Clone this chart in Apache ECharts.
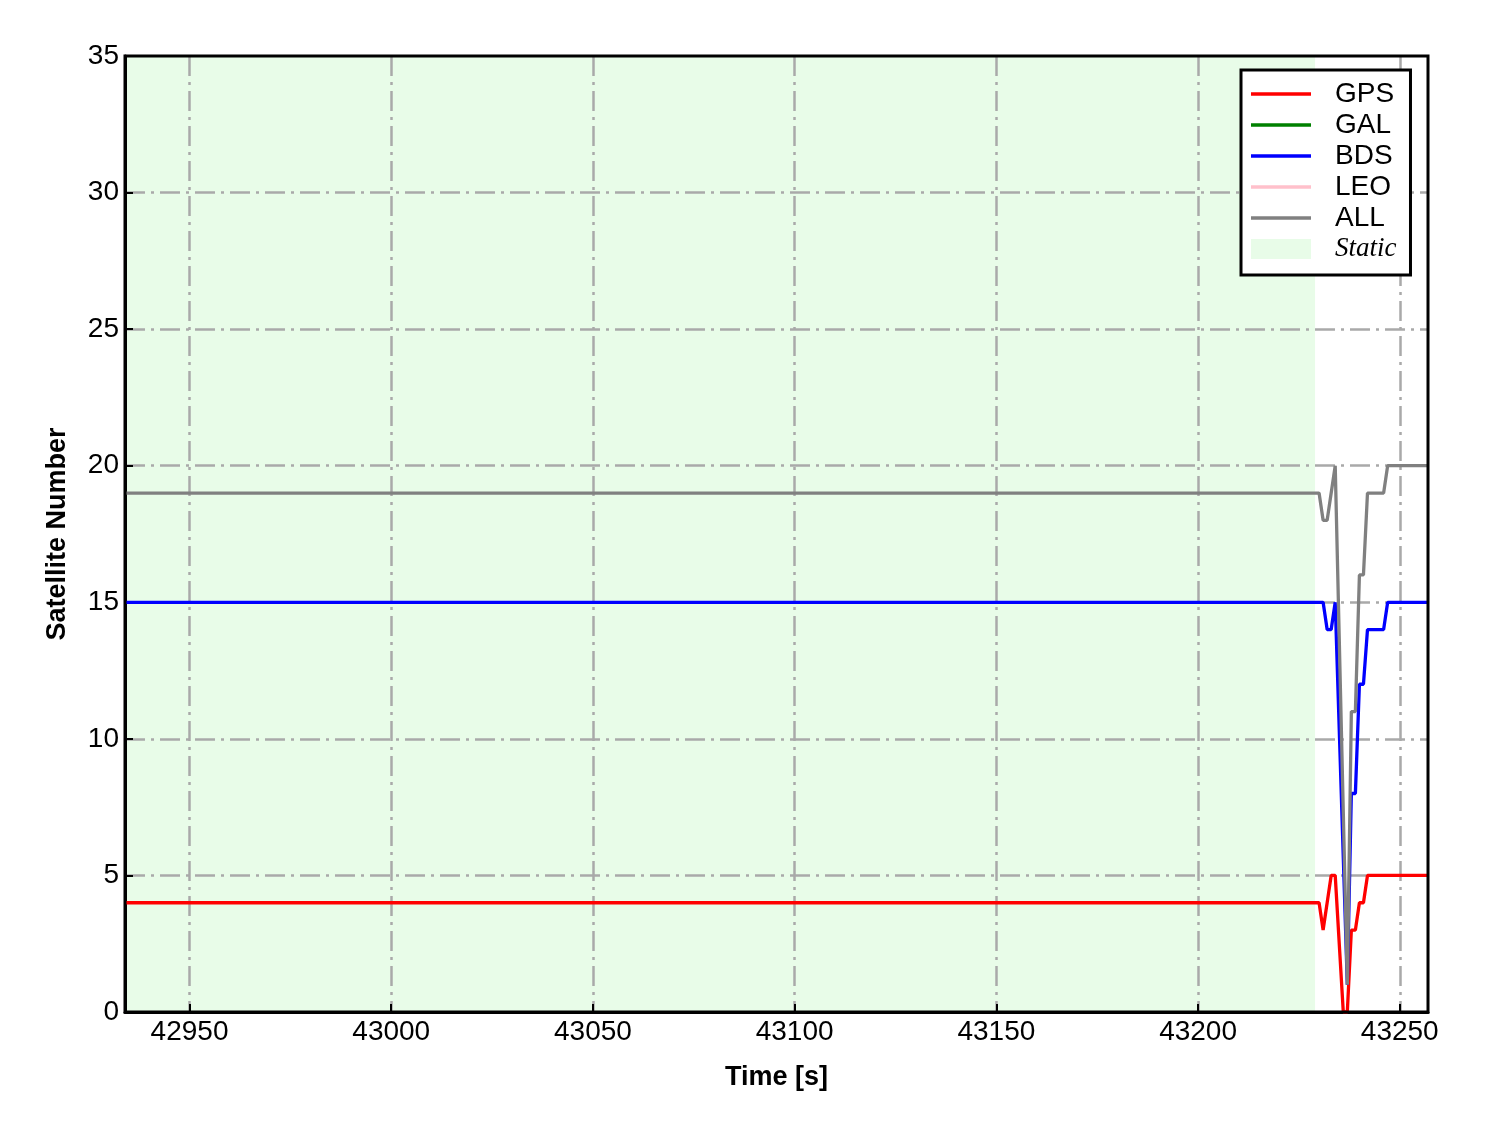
<!DOCTYPE html>
<html>
<head>
<meta charset="utf-8">
<script src="https://cdn.jsdelivr.net/npm/echarts@6/dist/echarts.min.js"></script>
<style>
html,body{margin:0;padding:0;background:#fff;}
#chart{width:1488px;height:1133px;}
</style>
</head>
<body>
<div id="chart"></div>
<script>
// ---- Data ----
const gpsTime = [42934, 43230, 43231, 43232, 43233, 43234, 43236, 43237, 43238, 43239, 43240, 43241, 43242, 43257];
const gpsVal  = [4,     4,     3,     4,     5,     5,     0,     0,     3,     3,     4,     4,     5,     5];

const galTime = [];
const galVal  = [];

const bdsTime = [42934, 43231, 43232, 43233, 43234, 43237, 43238, 43239, 43240, 43241, 43242, 43246, 43247, 43257];
const bdsVal  = [15,    15,    14,    14,    15,    1,     8,     8,     12,    12,    14,    14,    15,    15];

const leoTime = [];
const leoVal  = [];

const allTime = [42934, 43230, 43231, 43232, 43234, 43237, 43238, 43239, 43240, 43241, 43242, 43246, 43247, 43257];
const allVal  = [19,    19,    18,    18,    20,    1,     11,    11,    16,    16,    19,    19,    20,    20];

const staticRange = [42934, 43229];
const xRange = [42934, 43257];
const xTicks = [42950, 43000, 43050, 43100, 43150, 43200, 43250];
const yLabels = [0, 5, 10, 15, 20, 25, 30, 35];
const yGridTicks = [5, 10, 15, 20, 25, 30];

function pairs(t, v) { return t.map((x, i) => [x, v[i]]); }

const chart = echarts.init(document.getElementById('chart'), null, {renderer: 'canvas'});

const font = 'Liberation Sans, Arial, sans-serif';
const lineIcon = 'path://M0,0 L60,0 L60,3.5 L0,3.5 Z';
function lineSeries(name, color, t, v) {
  return {
    name: name, type: 'line', data: pairs(t, v), showSymbol: false, symbol: 'none',
    color: color, itemStyle: {color: color}, lineStyle: {color: color, width: 3.3}, z: 4, animation: false
  };
}
const gridLine = {show: true, lineStyle: {color: '#a9a9a9', width: 2.5, type: [20, 6, 3, 6]}};

const option = {
  animation: false,
  backgroundColor: '#fff',
  grid: {left: 125, right: 60, top: 56, bottom: 121, show: true, z: 5, borderColor: '#000', borderWidth: 3, backgroundColor: 'transparent'},
  xAxis: {
    type: 'value', min: xRange[0], max: xRange[1], z: 2,
    name: 'Time [s]', nameLocation: 'middle', nameGap: 52,
    nameTextStyle: {fontFamily: font, fontWeight: 'bold', fontSize: 27, color: '#000'},
    axisLine: {show: true, lineStyle: {color: '#000', width: 3}},
    axisTick: {show: true, inside: true, length: 8, customValues: xTicks, lineStyle: {color: '#000', width: 2}},
    axisLabel: {fontFamily: font, fontSize: 28, color: '#000', margin: 6, customValues: xTicks, formatter: v => String(v)},
    splitLine: gridLine
  },
  yAxis: {
    type: 'value', min: yLabels[0], max: yLabels[yLabels.length - 1], z: 2,
    name: 'Satellite Number', nameLocation: 'middle', nameGap: 54, nameRotate: 90,
    nameTextStyle: {fontFamily: font, fontWeight: 'bold', fontSize: 27, color: '#000'},
    axisLine: {show: true, lineStyle: {color: '#000', width: 3}},
    axisTick: {show: true, inside: true, length: 8, customValues: yGridTicks, lineStyle: {color: '#000', width: 2}},
    axisLabel: {fontFamily: font, fontSize: 28, color: '#000', margin: 6, customValues: yLabels, formatter: v => String(v)},
    splitLine: gridLine
  },
  legend: {
    left: 1241, top: 70, orient: 'vertical', z: 10,
    padding: [10, 14, 12, 10],
    backgroundColor: '#fff', borderColor: '#000', borderWidth: 3, borderRadius: 0,
    itemWidth: 60, itemHeight: 20, itemGap: 3, symbolKeepAspect: true,
    textStyle: {fontFamily: font, fontSize: 28, color: '#000', lineHeight: 28, padding: [0, 0, 0, 19]},
    data: [
      {name: 'GPS', icon: lineIcon},
      {name: 'GAL', icon: lineIcon},
      {name: 'BDS', icon: lineIcon},
      {name: 'LEO', icon: lineIcon},
      {name: 'ALL', icon: lineIcon},
      {name: 'Static', icon: 'rect', itemStyle: {color: '#e8fce8'},
       textStyle: {fontFamily: 'Liberation Serif, Times New Roman, serif', fontStyle: 'italic', fontSize: 27, color: '#000'}}]
  },
  series: [
    {
      name: 'Static', type: 'line', data: [], color: '#e8fce8', z: 1,
      markArea: {silent: true, itemStyle: {color: '#e8fce8'}, data: [[{xAxis: staticRange[0]}, {xAxis: staticRange[1]}]]}
    },
    lineSeries('GPS', '#ff0000', gpsTime, gpsVal),
    lineSeries('GAL', '#008000', galTime, galVal),
    lineSeries('BDS', '#0000ff', bdsTime, bdsVal),
    lineSeries('LEO', '#ffc0cb', leoTime, leoVal),
    lineSeries('ALL', '#808080', allTime, allVal)
  ]
};
chart.setOption(option);
</script>
</body>
</html>
